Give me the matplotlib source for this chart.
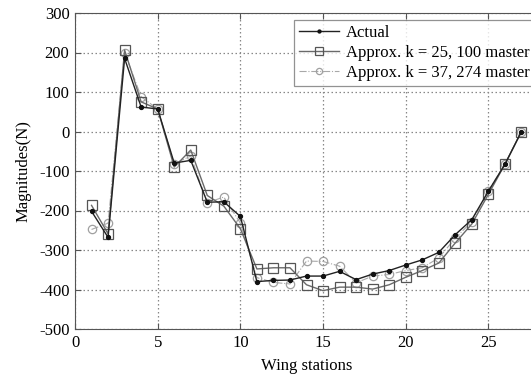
import numpy as np
import matplotlib.pyplot as plt

plt.rcParams['font.family'] = ['Liberation Serif', 'DejaVu Serif']
plt.rcParams['axes.unicode_minus'] = False

stations = list(range(1, 28))
actual = [-202, -268, 185, 62, 57, -80, -73, -179, -178, -215, -380, -377, -376,
          -366, -366, -354, -375, -361, -352, -338, -325, -306, -261, -223, -151, -83, 0]
approx_25 = [-187, -259, 206, 75, 57, -90, -47, -162, -189, -246, -348, -345, -345,
             -388, -403, -394, -394, -399, -388, -369, -352, -333, -282, -234, -159, -83, 0]
approx_37 = [-248, -232, 200, 88, 57, -82, -62, -180, -166, -232, -370, -382, -386,
             -328, -329, -341, -383, -366, -362, -352, -345, -320, -270, -228, -150, -83, 0]

# the source image is cropped at the right, so the legend text ends at "master"
labels = ["Actual", "Approx. k = 25, 100 master", "Approx. k = 37, 274 master"]
xticks = [0, 5, 10, 15, 20, 25]
yticks = [-500, -400, -300, -200, -100, 0, 100, 200, 300]

fig = plt.figure(figsize=(5.31, 3.79), dpi=100)
ax = fig.add_axes([75 / 531, 50 / 379, 463 / 531, 316 / 379])

ax.plot(stations, approx_37, color="#a8a8a8", lw=0.8, ls="-.", marker="o",
        ms=6, mfc="none", mec="#a0a0a0", mew=0.9, label=labels[2], zorder=2)
ax.plot(stations, approx_25, color="#6a6a6a", lw=1.0, ls="-", marker="s",
        ms=7.5, mfc="none", mec="#555555", mew=0.9, label=labels[1], zorder=3)
ax.plot(stations, actual, color="#222222", lw=1.0, ls="-", marker="o",
        ms=2.8, mfc="#111111", mec="#111111", label=labels[0], zorder=4)

ax.set_xlim(0, 28)
ax.set_ylim(-500, 300)
ax.set_xticks(xticks)
ax.set_yticks(yticks)
ax.grid(True, ls=(0, (1.2, 2)), color="#888888", lw=0.9)
ax.tick_params(direction="in", top=True, right=True, labelsize=12, color="#555555",
               length=4, pad=4)
for s in ax.spines.values():
    s.set_color("#555555")
ax.set_xlabel("Wing stations", fontsize=12, labelpad=5)
ax.set_ylabel("Magnitudes(N)", fontsize=12, labelpad=5)

handles, labs = ax.get_legend_handles_labels()
order = [2, 1, 0]
leg = fig.legend([handles[i] for i in order], [labs[i] for i in order],
                 loc="upper left", bbox_to_anchor=(294 / 531, 1 - 20 / 379),
                 fontsize=12, frameon=True, fancybox=False, edgecolor="#777777",
                 borderaxespad=0, borderpad=0.3, handlelength=2.4,
                 handletextpad=0.4, labelspacing=0.25, markerscale=0.75)
leg.get_frame().set_linewidth(0.9)

fig.savefig("out.png", dpi=100)
